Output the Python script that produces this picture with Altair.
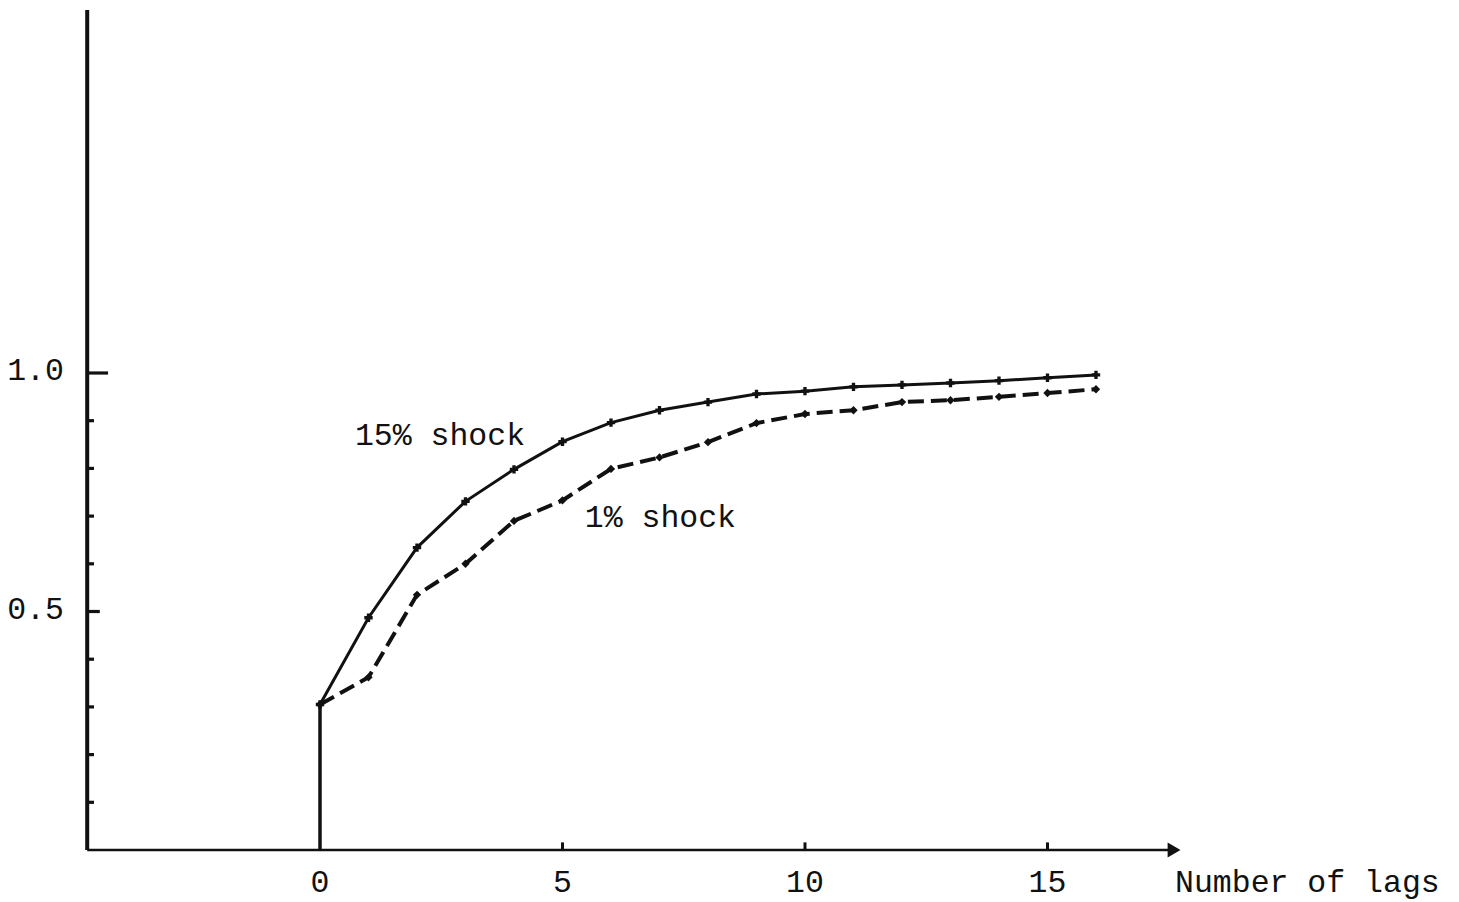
import altair as alt
import pandas as pd

# ---- data ----
lags = list(range(17))
shock15 = [0.305, 0.487, 0.634, 0.731, 0.798, 0.856, 0.896, 0.922, 0.939,
           0.956, 0.962, 0.971, 0.975, 0.979, 0.984, 0.990, 0.996]
shock1 = [0.305, 0.362, 0.535, 0.600, 0.690, 0.733, 0.799, 0.823, 0.855,
          0.895, 0.914, 0.922, 0.939, 0.943, 0.950, 0.958, 0.966]

y_major = [0.5, 1.0]
y_major_labels = ["0.5", "1.0"]
y_minor = [0.1, 0.2, 0.3, 0.4, 0.6, 0.7, 0.8, 0.9]
x_ticks = [5, 10, 15]
x_tick_labels = ["0", "5", "10", "15"]
x_label_pos = [0, 5, 10, 15]

XMIN, XMAX = -6.433, 23.320
YMIN, YMAX = -0.1048, 1.7652
AXIS_X = -4.80      # position of the vertical axis (in data units)
AXIS_TOP = 1.761
ARROW_X = 17.73
LABEL_Y = -0.0881   # baseline of the x labels

FONT = "Liberation Mono"
FS = 31.5
INK = "#111111"

xs = alt.Scale(domain=[XMIN, XMAX], nice=False, zero=False)
ys = alt.Scale(domain=[YMIN, YMAX], nice=False, zero=False)

def X(field):
    return alt.X(field, type="quantitative", scale=xs, axis=None)

def Y(field):
    return alt.Y(field, type="quantitative", scale=ys, axis=None)

df15 = pd.DataFrame({"lag": lags, "v": shock15})
df1 = pd.DataFrame({"lag": lags, "v": shock1})

# axes
yaxis = alt.Chart(pd.DataFrame({"x": [AXIS_X], "y0": [0.0], "y1": [AXIS_TOP]})).mark_rule(
    color=INK, strokeWidth=4).encode(x=X("x"), y=Y("y0"), y2="y1")
xaxis = alt.Chart(pd.DataFrame({"x0": [AXIS_X], "x1": [ARROW_X - 0.15], "y": [0.0]})).mark_rule(
    color=INK, strokeWidth=2.4).encode(x=X("x0"), x2="x1", y=Y("y"))
arrow = alt.Chart(pd.DataFrame({"x": [ARROW_X - 0.12], "y": [0.0]})).mark_point(
    shape="triangle-right", filled=True, color=INK, size=220, opacity=1).encode(x=X("x"), y=Y("y"))

# y ticks
ymaj = alt.Chart(pd.DataFrame({"y": y_major, "x0": [AXIS_X] * 2, "x1": [-4.54, -4.37]})).mark_rule(
    color=INK, strokeWidth=3.2).encode(x=X("x0"), x2="x1", y=Y("y"))
ymin = alt.Chart(pd.DataFrame({"y": y_minor, "x0": [AXIS_X] * len(y_minor),
                               "x1": [-4.66] * len(y_minor)})).mark_rule(
    color=INK, strokeWidth=3.2).encode(x=X("x0"), x2="x1", y=Y("y"))
ylab = alt.Chart(pd.DataFrame({"y": y_major, "t": y_major_labels, "x": [-5.28] * 2})).mark_text(
    font=FONT, fontSize=FS, align="right", baseline="middle", color=INK, dy=-2).encode(
    x=X("x"), y=Y("y"), text="t:N")

# x ticks
xtk = alt.Chart(pd.DataFrame({"x": x_ticks, "y0": [0.0] * 3, "y1": [0.016] * 3})).mark_rule(
    color=INK, strokeWidth=3).encode(x=X("x"), y=Y("y0"), y2="y1")
xlab = alt.Chart(pd.DataFrame({"x": x_label_pos, "t": x_tick_labels, "y": [LABEL_Y] * 4})).mark_text(
    font=FONT, fontSize=FS, align="center", baseline="alphabetic", color=INK).encode(
    x=X("x"), y=Y("y"), text="t:N")
xtitle = alt.Chart(pd.DataFrame({"x": [17.63], "y": [LABEL_Y], "t": ["Number of lags"]})).mark_text(
    font=FONT, fontSize=FS, align="left", baseline="alphabetic", color=INK).encode(
    x=X("x"), y=Y("y"), text="t:N")

# vertical jump at lag 0
jump = alt.Chart(df15.head(1)).transform_calculate(base="0").mark_rule(
    color=INK, strokeWidth=3.5).encode(x=X("lag"), y=Y("base"), y2="v")

# series
line15 = alt.Chart(df15).mark_line(color=INK, strokeWidth=3).encode(x=X("lag"), y=Y("v"))
pts15 = alt.Chart(df15).mark_point(shape="cross", filled=True, color=INK, size=70, opacity=1).encode(
    x=X("lag"), y=Y("v"))
line1 = alt.Chart(df1).mark_line(color=INK, strokeWidth=4, strokeDash=[16, 7]).encode(
    x=X("lag"), y=Y("v"))
pts1 = alt.Chart(df1).mark_point(shape="diamond", filled=True, color=INK, size=70, opacity=1).encode(
    x=X("lag"), y=Y("v"))

# annotations
ann = alt.Chart(pd.DataFrame({"x": [0.72, 5.46], "y": [0.868, 0.696],
                              "t": ["15% shock", "1% shock"]})).mark_text(
    font=FONT, fontSize=FS, align="left", baseline="middle", color=INK).encode(
    x=X("x"), y=Y("y"), text="t:N")

chart = alt.layer(
    yaxis, xaxis, arrow, ymaj, ymin, ylab, xtk, xlab, xtitle,
    jump, line15, line1, pts15, pts1, ann
).properties(
    width=1443, height=892, autosize=alt.AutoSizeParams(type="none"), padding=0,
    background="white"
).configure_view(stroke=None)

chart.save("out.html", embed_options={"renderer": "svg", "actions": False})
